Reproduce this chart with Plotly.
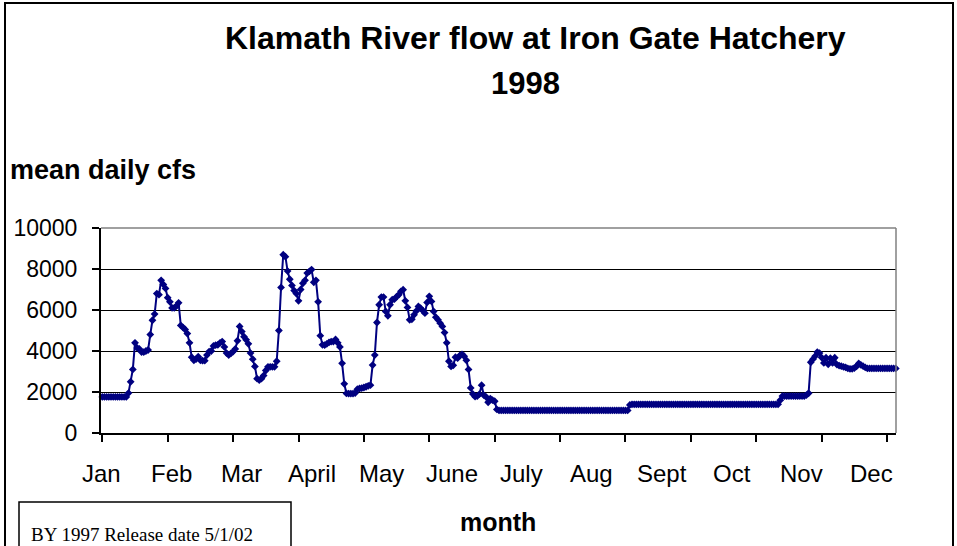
import plotly.graph_objects as go

# ---------------- data (mean daily cfs, 1998) ----------------
JAN = [1760, 1760, 1760, 1760, 1760, 1760, 1760, 1760, 1760, 1760, 1760, 1760,
       1950, 2500, 3100, 4400, 4150, 4100, 3950, 3950, 4000, 4050, 4800, 5500,
       5800, 6800, 6750, 7450, 7250, 7050, 6600]
FEB = [6400, 6100, 6100, 6200, 6350, 5250, 5150, 5050, 4850, 4400, 3700, 3550,
       3600, 3720, 3550, 3530, 3530, 3800, 3970, 4000, 4250, 4290, 4300, 4400,
       4460, 4200, 3900, 3800]
MAR = [3880, 3970, 4100, 4500, 5200, 4950, 4700, 4550, 4350, 3900, 3600, 3250,
       2650, 2580, 2650, 2800, 3050, 3230, 3230, 3230, 3230, 3500, 5000, 7100,
       8700, 8600, 7900, 7500, 7200, 6950, 6800]
APR = [6450, 7000, 7300, 7450, 7800, 7880, 7970, 7350, 7450, 6400, 4750, 4300,
       4290, 4350, 4420, 4460, 4460, 4560, 4400, 4200, 3400, 2400, 1930, 1925,
       1925, 1925, 1950, 2140, 2170, 2190]
MAY = [2220, 2255, 2300, 2335, 3315, 3800, 5390, 6255, 6630, 6630, 5930, 5715,
       6255, 6500, 6530, 6650, 6745, 6910, 6990, 6450, 6125, 5520, 5550, 5765,
       5950, 6170, 6090, 5975, 5845, 6370, 6665]
JUN = [6420, 5930, 5650, 5520, 5355, 5200, 4900, 4400, 3500, 3250, 3300, 3700,
       3650, 3780, 3840, 3750, 3550, 3100, 2200, 1900, 1770, 1800, 1895, 2335,
       1845, 1765, 1500, 1680, 1600, 1550]
JUL = [1150, 1100, 1100, 1100, 1100, 1100, 1100, 1100, 1100, 1100, 1100, 1100,
       1100, 1100, 1100, 1100, 1100, 1100, 1100, 1100, 1100, 1100, 1100, 1100,
       1100, 1100, 1100, 1100, 1100, 1100, 1100]
AUG = [1100, 1100, 1100, 1100, 1100, 1100, 1100, 1100, 1100, 1100, 1100, 1100,
       1100, 1100, 1100, 1100, 1100, 1100, 1100, 1100, 1100, 1100, 1100, 1100,
       1100, 1100, 1100, 1100, 1100, 1100, 1370]
SEP = [1400, 1400, 1400, 1400, 1400, 1400, 1400, 1400, 1400, 1400, 1400, 1400,
       1400, 1400, 1400, 1400, 1400, 1400, 1400, 1400, 1400, 1400, 1400, 1400,
       1400, 1400, 1400, 1400, 1400, 1400]
OCT = [1400, 1400, 1400, 1400, 1400, 1400, 1400, 1400, 1400, 1400, 1400, 1400,
       1400, 1400, 1400, 1400, 1400, 1400, 1400, 1400, 1400, 1400, 1400, 1400,
       1400, 1400, 1400, 1400, 1400, 1400, 1400]
NOV = [1400, 1400, 1400, 1400, 1400, 1400, 1400, 1600, 1800, 1800, 1800, 1800,
       1800, 1800, 1800, 1800, 1800, 1800, 1800, 1850, 1940, 3450, 3600, 3750,
       3950, 3900, 3680, 3420, 3670, 3350]
DEC = [3650, 3420, 3670, 3340, 3290, 3260, 3230, 3200, 3150, 3130, 3130, 3170,
       3250, 3390, 3320, 3260, 3200, 3150, 3150, 3150, 3150, 3150, 3150, 3150,
       3150, 3150, 3150, 3150, 3150, 3150, 3150]

MONTH_LABELS = ["Jan", "Feb", "Mar", "April", "May", "June", "July", "Aug",
                "Sept", "Oct", "Nov", "Dec"]
Y_TICKS = [0, 2000, 4000, 6000, 8000, 10000]

TITLE_1 = "Klamath River flow at Iron Gate Hatchery"
TITLE_2 = "1998"
Y_TITLE = "mean daily cfs"
X_TITLE = "month"
NOTE = "BY 1997 Release date 5/1/02"

flow = JAN + FEB + MAR + APR + MAY + JUN + JUL + AUG + SEP + OCT + NOV + DEC
days = list(range(len(flow)))

# ---------------- layout geometry (pixels) ----------------
W, H = 957, 546
PL, PR, PT, PB = 101, 896, 228, 433
X_RANGE = [-0.6, 364.1]
TICK_STEP = 30
LABEL_START, LABEL_STEP = -0.28, 32.12

def xp(px):
    return (px - PL) / (PR - PL)

def yp(py):
    return (PB - py) / (PB - PT)

FONT = "Liberation Sans, Arial, sans-serif"
SERIF = "Liberation Serif, Times New Roman, serif"
NAVY = "#000080"

fig = go.Figure()
fig.add_trace(go.Scatter(
    x=days, y=flow, mode="lines+markers",
    line=dict(color=NAVY, width=2),
    marker=dict(symbol="diamond", size=6, color=NAVY),
    hoverinfo="x+y", showlegend=False, cliponaxis=False,
))

tick_vals = list(range(0, len(flow), TICK_STEP))

annotations = []
for i, lab in enumerate(MONTH_LABELS):
    annotations.append(dict(
        x=LABEL_START + i * LABEL_STEP, xref="x", y=yp(458), yref="paper",
        text=lab, showarrow=False, xanchor="center", yanchor="top",
        font=dict(family=FONT, size=24, color="black")))

annotations += [
    dict(x=xp(535), y=yp(38), xref="paper", yref="paper", text="<b>%s</b>" % TITLE_1,
         showarrow=False, xanchor="center", yanchor="middle",
         font=dict(family=FONT, size=32, color="black")),
    dict(x=xp(525), y=yp(83), xref="paper", yref="paper", text="<b>%s</b>" % TITLE_2,
         showarrow=False, xanchor="center", yanchor="middle",
         font=dict(family=FONT, size=31, color="black")),
    dict(x=xp(8), y=yp(170), xref="paper", yref="paper", text="<b>%s</b>" % Y_TITLE,
         showarrow=False, xanchor="left", yanchor="middle",
         font=dict(family=FONT, size=27, color="black")),
    dict(x=xp(498), y=yp(522), xref="paper", yref="paper", text="<b>%s</b>" % X_TITLE,
         showarrow=False, xanchor="center", yanchor="middle",
         font=dict(family=FONT, size=25, color="black")),
    dict(x=xp(29), y=yp(534), xref="paper", yref="paper", text=NOTE,
         showarrow=False, xanchor="left", yanchor="middle",
         font=dict(family=SERIF, size=19, color="black")),
]

shapes = [
    # outer chart border
    dict(type="rect", xref="paper", yref="paper", x0=xp(5), x1=xp(953),
         y0=yp(600), y1=yp(3), line=dict(color="black", width=2), layer="below"),
    # note box
    dict(type="rect", xref="paper", yref="paper", x0=xp(19), x1=xp(291),
         y0=yp(600), y1=yp(502), line=dict(color="black", width=1.5), layer="below"),
    # grey plot-area border (top and right)
    dict(type="line", xref="paper", yref="paper", x0=0, x1=1, y0=1, y1=1,
         line=dict(color="#808080", width=1.5), layer="above"),
    dict(type="line", xref="paper", yref="paper", x0=1, x1=1, y0=0, y1=1,
         line=dict(color="#808080", width=1.5), layer="above"),
]

fig.update_layout(
    width=W, height=H,
    margin=dict(l=PL, r=W - PR, t=PT, b=H - PB, pad=0, autoexpand=False),
    paper_bgcolor="white", plot_bgcolor="white",
    showlegend=False,
    annotations=annotations, shapes=shapes,
    xaxis=dict(range=X_RANGE, tickvals=tick_vals, ticktext=["" for _ in tick_vals],
               ticks="outside", ticklen=7, tickwidth=2, tickcolor="black",
               showline=True, linecolor="black", linewidth=2, automargin=False,
               showgrid=False, zeroline=False, fixedrange=True),
    yaxis=dict(range=[0, 10000], tickvals=Y_TICKS,
               ticktext=[str(v) for v in Y_TICKS],
               ticks="outside", ticklen=7, tickwidth=1.5, tickcolor="black",
               tickfont=dict(family=FONT, size=23, color="black"),
               ticklabelstandoff=10, automargin=False,
               showline=True, linecolor="black", linewidth=2,
               showgrid=True, gridcolor="black", gridwidth=1,
               zeroline=False, fixedrange=True),
)

fig.write_html("out.html", config={"displayModeBar": False},
               post_script="document.body.style.margin='0';document.body.style.overflow='hidden';")
